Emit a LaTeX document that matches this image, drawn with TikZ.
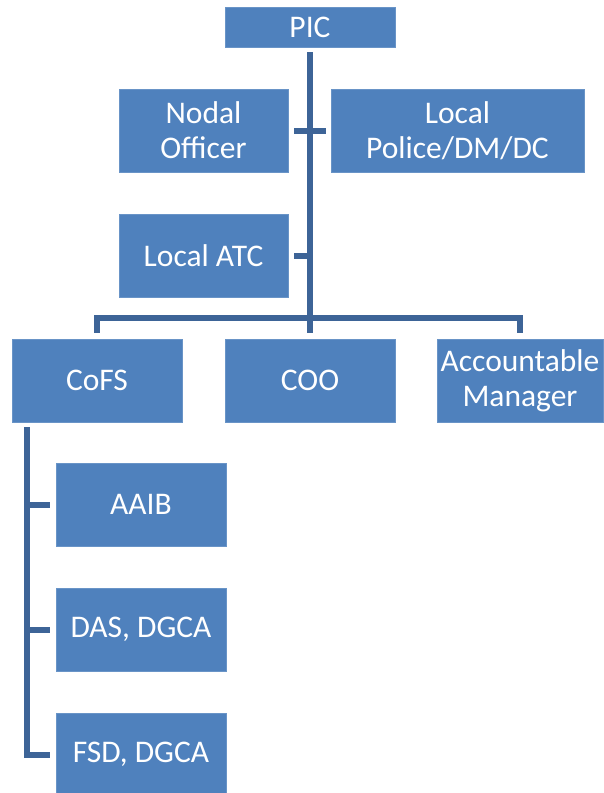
\documentclass[tikz,border=0pt]{standalone}
\usepackage{fontspec}
\setmainfont{Carlito}
\usetikzlibrary{calc}
\definecolor{boxblue}{HTML}{4F81BD}
\definecolor{lineblue}{HTML}{3D6497}
\begin{document}
\begin{tikzpicture}[x=1pt,y=-1pt,
  box/.style={fill=boxblue, draw=boxblue!85!white, line width=0.6pt, text=white,
    font=\fontsize{31.5}{35}\selectfont, align=center, inner sep=0pt,
    minimum height=83pt, minimum width=170pt},
  conn/.style={draw=lineblue, line width=6pt}]
\useasboundingbox (0,0) rectangle (603,793);
\node[box, minimum height=40pt] (PIC) at (310,27) {PIC};
\node[box, minimum width=169pt] (Nodal) at (203.5,130.5) {Nodal\\Officer};
\node[box, minimum width=253pt] (Police) at (457.5,130.5) {Local\\Police/DM/DC};
\node[box, minimum width=169pt] (ATC) at (203.5,255.5) {Local ATC};
\node[box] (CoFS) at (97,380.5) {CoFS};
\node[box] (COO) at (310,380.5) {COO};
\node[box, minimum width=166pt] (Acc) at (520,380.5) {Accountable\\Manager};
\node[box] (AAIB) at (141,504.5) {AAIB};
\node[box] (DAS) at (141,629.5) {DAS, DGCA};
\node[box] (FSD) at (141,754.5) {FSD, DGCA};
\coordinate (top) at ($(PIC.south)+(0,5)$);
\coordinate (cend) at ($(COO.north)+(0,-6)$);
\coordinate (lt) at ($(CoFS.south west)+(15.5,5)$);
\draw[conn] (top) -- (cend);
\draw[conn] ($(Nodal.east)+(6,0)$) -- ($(Police.west)+(-5,0)$);
\draw[conn] ($(ATC.east)+(6,0)$) -- (ATC.east -| top);
\draw[conn] ($(CoFS.north)+(0,-6)$) -- ($(CoFS.north)+(0,-21)$) -| ($(Acc.north)+(0,-6)$);
\draw[conn] (lt) |- ($(FSD.west)+(-6,0)$);
\draw[conn] ($(AAIB.west)+(-6,0)$) -- (AAIB.west -| lt);
\draw[conn] ($(DAS.west)+(-6,0)$) -- (DAS.west -| lt);
\end{tikzpicture}
\end{document}
